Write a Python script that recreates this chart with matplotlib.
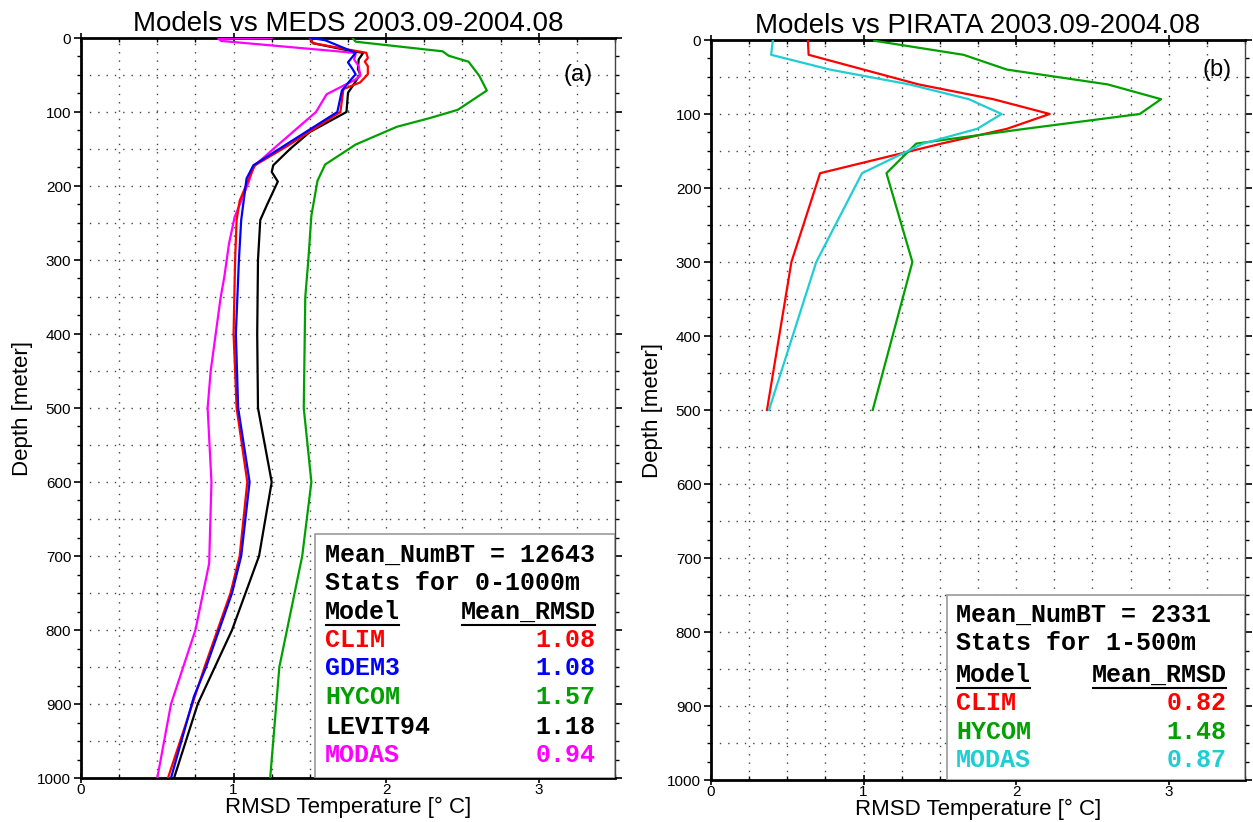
import numpy as np
import matplotlib
matplotlib.use("Agg")
import matplotlib.pyplot as plt
from matplotlib.patches import Rectangle
from matplotlib.ticker import MultipleLocator
from matplotlib.transforms import IdentityTransform

plt.rcParams['font.family'] = ['Liberation Sans', 'DejaVu Sans']

# ---- panel (a): Models vs MEDS, RMSD (deg C) vs depth (m)
meds_clim_depth = [0, 7, 20, 27, 32, 38, 49, 60, 69, 100, 145, 172, 190, 220, 246, 300, 400, 500, 600, 700, 750, 850, 900, 1000]
meds_clim = [1.50, 1.52, 1.87, 1.88, 1.86, 1.88, 1.88, 1.83, 1.72, 1.70, 1.36, 1.14, 1.10, 1.04, 1.02, 1.01, 1.00, 1.02, 1.09, 1.04, 0.98, 0.81, 0.73, 0.57]

meds_gdem_depth = [0, 3, 20, 33, 42, 49, 56, 71, 100, 172, 190, 246, 300, 400, 500, 600, 700, 750, 850, 890, 1000]
meds_gdem = [1.51, 1.60, 1.80, 1.75, 1.78, 1.80, 1.77, 1.71, 1.68, 1.13, 1.085, 1.05, 1.035, 1.015, 1.03, 1.105, 1.05, 0.99, 0.82, 0.74, 0.59]

meds_hycom_depth = [0, 5, 18, 24, 32, 51, 71, 97, 108, 120, 144, 171, 193, 240, 300, 350, 500, 600, 650, 700, 800, 850, 1000]
meds_hycom = [1.78, 1.80, 2.37, 2.41, 2.54, 2.61, 2.66, 2.47, 2.29, 2.07, 1.80, 1.60, 1.55, 1.51, 1.49, 1.47, 1.46, 1.51, 1.48, 1.45, 1.35, 1.30, 1.24]

meds_levit_depth = [0, 7, 18, 20, 29, 42, 49, 65, 74, 100, 127, 150, 172, 181, 194, 225, 246, 300, 400, 500, 600, 700, 800, 900, 1000]
meds_levit = [1.50, 1.52, 1.78, 1.85, 1.82, 1.815, 1.83, 1.78, 1.75, 1.74, 1.50, 1.37, 1.26, 1.25, 1.29, 1.22, 1.175, 1.16, 1.155, 1.16, 1.25, 1.167, 0.99, 0.765, 0.61]

meds_modas_depth = [0, 1, 4, 20, 22, 29, 38, 51, 56, 76, 100, 150, 174, 194, 220, 242, 278, 322, 351, 450, 500, 600, 710, 800, 900, 1000]
meds_modas = [1.25, 0.90, 0.92, 1.79, 1.80, 1.79, 1.82, 1.83, 1.80, 1.61, 1.54, 1.26, 1.13, 1.10, 1.05, 1.007, 0.97, 0.94, 0.915, 0.85, 0.83, 0.855, 0.84, 0.75, 0.59, 0.50]

meds_models = ["CLIM", "GDEM3", "HYCOM", "LEVIT94", "MODAS"]
meds_mean_rmsd = ["1.08", "1.08", "1.57", "1.18", "0.94"]
meds_numbt = 12643

# ---- panel (b): Models vs PIRATA
pirata_depth = [1, 20, 40, 60, 80, 100, 120, 140, 180, 300, 500]
pirata_clim = [0.635, 0.64, 1.00, 1.36, 1.85, 2.22, 1.94, 1.51, 0.715, 0.527, 0.367]
pirata_hycom = [1.07, 1.655, 1.94, 2.60, 2.95, 2.81, 2.06, 1.345, 1.15, 1.32, 1.06]
pirata_modas = [0.405, 0.394, 0.78, 1.30, 1.69, 1.905, 1.745, 1.39, 0.99, 0.69, 0.38]

pirata_models = ["CLIM", "HYCOM", "MODAS"]
pirata_mean_rmsd = ["0.82", "1.48", "0.87"]
pirata_numbt = 2331

RED, BLUE, GREEN, BLACK, MAGENTA, CYAN = "#ff0000", "#0000ff", "#00a000", "#000000", "#ff00ff", "#1fcdd2"
model_colors = {"CLIM": RED, "GDEM3": BLUE, "HYCOM": GREEN, "LEVIT94": BLACK, "MODAS": MAGENTA}

W, H = 1253, 822
fig = plt.figure(figsize=(W / 100, H / 100), dpi=100)
ax_a = fig.add_axes([81 / W, 1 - 778 / H, 534 / W, 740 / H])
ax_b = fig.add_axes([711 / W, 1 - 780 / H, 534 / W, 740 / H])


def style_axes(ax, title):
	ax.set_xlim(0, 3.5)
	ax.set_ylim(1000, 0)
	for d in np.arange(50, 1000, 50):
		ax.axhline(d, color="#444444", lw=1.0, ls=(0, (1, 5)), zorder=1)
	for x in np.arange(0.25, 3.5, 0.25):
		ax.axvline(x, color="#444444", lw=1.0, ls=(0, (1, 5)), zorder=1)
	ax.yaxis.set_major_locator(MultipleLocator(100))
	ax.yaxis.set_minor_locator(MultipleLocator(25))
	ax.xaxis.set_major_locator(MultipleLocator(1))
	ax.xaxis.set_minor_locator(MultipleLocator(0.25))
	ax.tick_params(axis="y", which="major", direction="out", length=5, width=1.2, labelsize=11, pad=2, right=True)
	ax.tick_params(axis="y", which="minor", direction="out", length=3, width=1, right=True)
	ax.tick_params(axis="x", which="major", direction="inout", length=7, width=1.2, labelsize=11, pad=0, top=True)
	ax.tick_params(axis="x", which="minor", direction="in", length=3, width=1, top=True)
	for s in ["left", "bottom", "top"]:
		ax.spines[s].set_linewidth(2.0)
	ax.spines["right"].set_linewidth(1.0)
	ax.spines["right"].set_color("#444444")
	ax.set_title(title, fontsize=20, pad=5)
	ax.set_ylabel("Depth [meter]", fontsize=16, labelpad=3)
	ax.set_xlabel("RMSD Temperature [° C]", fontsize=16, labelpad=0)


def stats_box(ax, x0, top, lines_y, xl, xr, numbt, depth_range, models, values, colors):
	ax.add_patch(Rectangle((x0, 0), 1 - x0, top, transform=ax.transAxes, facecolor="white",
		edgecolor="#999999", lw=1.2, zorder=5))
	kw = dict(transform=ax.transAxes, fontsize=18, family="Liberation Mono", fontweight="bold", va="center", zorder=6)
	ax.text(xl, lines_y[0], f"Mean_NumBT = {numbt}", ha="left", **kw)
	ax.text(xl, lines_y[1], f"Stats for {depth_range}", ha="left", **kw)
	heads = [ax.text(xl, lines_y[2], "Model", ha="left", **kw),
		ax.text(xr, lines_y[2], "Mean_RMSD", ha="right", **kw)]
	for i, (m, v) in enumerate(zip(models, values)):
		ax.text(xl, lines_y[3 + i], m, ha="left", color=colors[m], **kw)
		ax.text(xr, lines_y[3 + i], v, ha="right", color=colors[m], **kw)
	return heads


style_axes(ax_a, "Models vs MEDS 2003.09-2004.08")
lw = 1.6
ax_a.plot(meds_hycom, meds_hycom_depth, color=GREEN, lw=lw, zorder=3)
ax_a.plot(meds_levit, meds_levit_depth, color=BLACK, lw=lw, zorder=3)
ax_a.plot(meds_modas, meds_modas_depth, color=MAGENTA, lw=lw, zorder=3)
ax_a.plot(meds_clim, meds_clim_depth, color=RED, lw=lw, zorder=3)
ax_a.plot(meds_gdem, meds_gdem_depth, color=BLUE, lw=lw, zorder=3)
ax_a.text(0.931, 0.95, "(a)", transform=ax_a.transAxes, fontsize=17, ha="center", va="center")
heads_a = stats_box(ax_a, 0.438, 0.33, [0.301, 0.264, 0.224, 0.186, 0.149, 0.109, 0.069, 0.031],
	0.457, 0.964, meds_numbt, "0-1000m", meds_models, meds_mean_rmsd, model_colors)

style_axes(ax_b, "Models vs PIRATA 2003.09-2004.08")
ax_b.plot(pirata_clim, pirata_depth, color=RED, lw=lw, zorder=3)
ax_b.plot(pirata_hycom, pirata_depth, color=GREEN, lw=lw, zorder=3)
ax_b.plot(pirata_modas, pirata_depth, color=CYAN, lw=lw, zorder=3)
ax_b.text(0.948, 0.959, "(b)", transform=ax_b.transAxes, fontsize=17, ha="center", va="center")
colors_b = {"CLIM": RED, "HYCOM": GREEN, "MODAS": CYAN}
heads_b = stats_box(ax_b, 0.442, 0.25, [0.223, 0.185, 0.142, 0.104, 0.065, 0.027],
	0.459, 0.966, pirata_numbt, "1-500m", pirata_models, pirata_mean_rmsd, colors_b)

# underline the column headings
fig.canvas.draw()
for t in heads_a + heads_b:
	bb = t.get_window_extent()
	fig.add_artist(plt.Line2D([bb.x0 + 1, bb.x1 - 1], [bb.y0 - 1, bb.y0 - 1], transform=IdentityTransform(),
		color="black", lw=1.5, zorder=7))

fig.savefig("out.png", dpi=100)
